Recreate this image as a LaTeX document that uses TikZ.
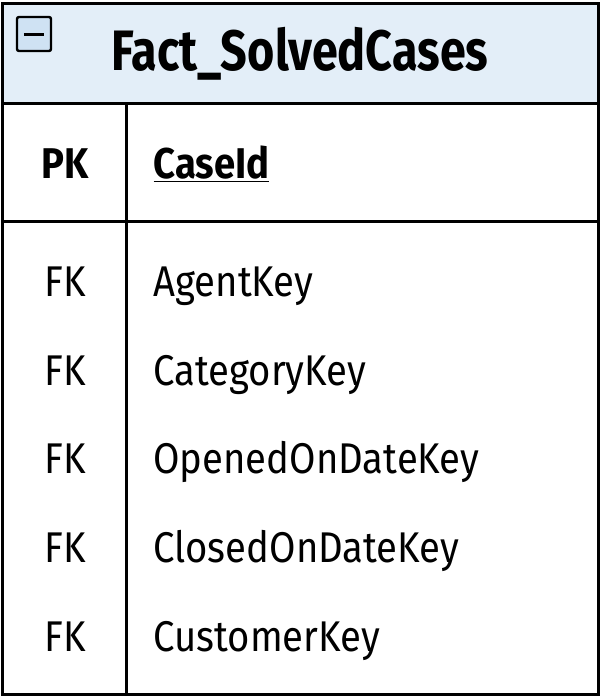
\documentclass[tikz,border=0pt]{standalone}
\usepackage{fontspec}
\setmainfont{Fira Sans}[FakeStretch=0.82]
\newfontfamily\bodyfont{Fira Sans}[FakeStretch=0.89]
\usetikzlibrary{positioning}
\definecolor{headblue}{HTML}{E3EEF8}
\definecolor{iconblue}{HTML}{CFE2F3}
\begin{document}
\begin{tikzpicture}[x=0.5pt,y=-0.5pt,line width=1.5pt]
                \tikzstyle{cell}=[draw=black,inner sep=0pt,outer sep=0pt]
                \tikzstyle{keytext}=[font=\bodyfont\fontsize{21.5}{24}\selectfont,anchor=base,inner sep=0pt]
                \tikzstyle{fieldtext}=[font=\bodyfont\fontsize{21.5}{24}\selectfont,anchor=base west,inner sep=0pt]
                \useasboundingbox (0,0) rectangle (600,697);
                \fill[white] (0,0) rectangle (600,697);

                \node[cell,fill=headblue,minimum width=298pt,minimum height=50pt,anchor=north west] (head) at (2,3) {};
                \node[cell,minimum width=298pt,minimum height=59pt,anchor=north west] (pkrow) at (2,103) {};
                \node[cell,minimum width=298pt,minimum height=236.5pt,anchor=north west] (fkrow) at (2,221) {};
                \draw (126,103) -- (126,695);

                \node[draw=black,line width=1.2pt,fill=iconblue,rounded corners=1pt,minimum size=17pt,inner sep=0pt] (icon) at (34,34) {};
                \draw ([xshift=4pt]icon.west) -- ([xshift=-4pt]icon.east);

                \node[font=\bfseries\fontsize{28.5}{32}\selectfont,anchor=base] (title) at (300,70) {Fact\_SolvedCases};

                \node[keytext,font=\bodyfont\bfseries\fontsize{21.5}{24}\selectfont] (pk) at (65,178) {PK};
                \node[fieldtext,font=\bodyfont\bfseries\fontsize{21.5}{24}\selectfont] (caseid) at (152,178) {\underline{CaseId}};

                \foreach \name/\y in {AgentKey/296, CategoryKey/385, OpenedOnDateKey/473, ClosedOnDateKey/562, CustomerKey/651}
                        {
                        \node[keytext] (fk-\name) at (65,\y) {FK};
                        \node[fieldtext] (f-\name) at (152,\y) {\name};
                        }

            \end{tikzpicture}
\end{document}
